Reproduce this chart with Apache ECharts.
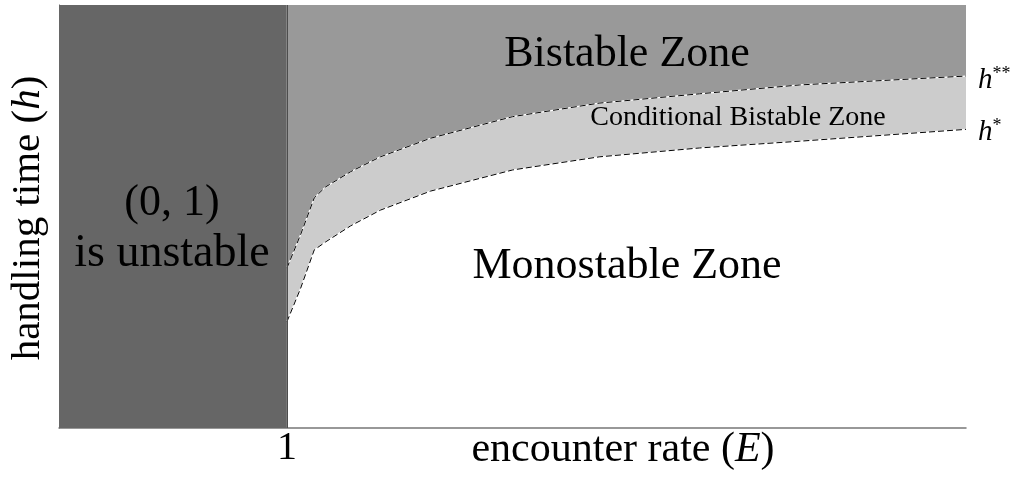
<!DOCTYPE html>
<html>
<head>
<meta charset="utf-8">
<script src="https://cdn.jsdelivr.net/npm/echarts@6/dist/echarts.min.js"></script>
<style>
  html, body { margin: 0; padding: 0; background: #ffffff; }
  #chart { width: 1016px; height: 479px; }
</style>
</head>
<body>
<div id="chart"></div>
<script>
// ---- data ----
var encounterRate = [1.00, 1.06, 1.12, 1.17, 1.28, 1.41, 1.63, 1.99, 2.37, 2.81, 3.25, 3.98];
var hDoubleStar   = [0.378, 0.457, 0.544, 0.570, 0.606, 0.641, 0.685, 0.736, 0.768, 0.790, 0.811, 0.832];
var hStar         = [0.251, 0.330, 0.421, 0.440, 0.478, 0.515, 0.560, 0.610, 0.641, 0.662, 0.678, 0.706];
var unstableRange = [0, 1];        // E range where (0,1) is unstable
var xRange = [0, 3.98];
var yRange = [0, 1];
var xTickLabels = ['1'];

var SERIF = '"Liberation Serif", "DejaVu Serif", serif';

function pairs(xs, ys) { return xs.map(function (x, i) { return [x, ys[i]]; }); }

var chart = echarts.init(document.getElementById('chart'), null, { renderer: 'canvas' });

var option = {
  animation: false,
  backgroundColor: '#ffffff',
  grid: { left: 59, right: 50, top: 5, bottom: 51, containLabel: false },
  xAxis: {
    type: 'value',
    min: xRange[0], max: xRange[1], interval: 1,
    splitLine: { show: false },
    axisTick: { show: false },
    axisLine: { show: true, lineStyle: { color: '#777777', width: 1.5 } },
    axisLabel: {
      show: true, margin: 0, color: '#000000', fontFamily: SERIF, fontSize: 40,
      showMinLabel: false, showMaxLabel: false,
      formatter: function (v) { return xTickLabels.indexOf(String(v)) >= 0 ? String(v) : ''; }
    }
  },
  yAxis: {
    type: 'value',
    min: yRange[0], max: yRange[1],
    splitLine: { show: false },
    axisTick: { show: false },
    axisLabel: { show: false },
    axisLine: { show: true, lineStyle: { color: '#555555', width: 1 } }
  },
  series: [
    {
      name: 'h* fill', type: 'line', data: pairs(encounterRate, hStar),
      symbol: 'none', smooth: false, z: 2,
      lineStyle: { color: '#ffffff', width: 1.2 },
      areaStyle: { color: '#cccccc', opacity: 1, origin: 'end' },
      markArea: {
        silent: true,
        itemStyle: { color: '#666666', opacity: 1 },
        data: [[{ xAxis: unstableRange[0], yAxis: yRange[0] }, { xAxis: unstableRange[1], yAxis: yRange[1] }]]
      },
      markLine: {
        silent: true, symbol: 'none', label: { show: false },
        lineStyle: { color: '#4d4d4d', width: 1, type: 'solid' },
        data: [{ xAxis: unstableRange[1] }]
      }
    },
    {
      name: 'h** fill', type: 'line', data: pairs(encounterRate, hDoubleStar),
      symbol: 'none', smooth: false, z: 3,
      lineStyle: { color: '#ffffff', width: 1.2 },
      areaStyle: { color: '#999999', opacity: 1, origin: 'end' }
    },
    {
      name: 'h*', type: 'line', data: pairs(encounterRate, hStar),
      symbol: 'none', smooth: false, z: 4,
      lineStyle: { color: '#000000', width: 1, type: [6, 3] }
    },
    {
      name: 'h**', type: 'line', data: pairs(encounterRate, hDoubleStar),
      symbol: 'none', smooth: false, z: 4,
      lineStyle: { color: '#000000', width: 1, type: [6, 3] }
    }
  ],
  graphic: [
    { type: 'text', x: 627, y: 54, z: 10, style: { text: 'Bistable Zone', font: '44px ' + SERIF, fill: '#000', align: 'center', verticalAlign: 'middle' } },
    { type: 'text', x: 627, y: 266, z: 10, style: { text: 'Monostable Zone', font: '44px ' + SERIF, fill: '#000', align: 'center', verticalAlign: 'middle' } },
    { type: 'text', x: 738, y: 118, z: 10, style: { text: 'Conditional Bistable Zone', font: '28px ' + SERIF, fill: '#000', align: 'center', verticalAlign: 'middle' } },
    { type: 'text', x: 172, y: 203, z: 10, style: { text: '(0, 1)', font: '44px ' + SERIF, fill: '#000', align: 'center', verticalAlign: 'middle' } },
    { type: 'text', x: 172, y: 254, z: 10, style: { text: 'is unstable', font: '46px ' + SERIF, fill: '#000', align: 'center', verticalAlign: 'middle' } },
    { type: 'text', x: 978, y: 80, z: 10, style: {
        text: '{i|h}{s|**}', align: 'left', verticalAlign: 'middle',
        rich: { i: { font: 'italic 29px ' + SERIF, fill: '#000', verticalAlign: 'bottom' },
                s: { font: '18px ' + SERIF, fill: '#000', verticalAlign: 'top' } } } },
    { type: 'text', x: 978, y: 132, z: 10, style: {
        text: '{i|h}{s|*}', align: 'left', verticalAlign: 'middle',
        rich: { i: { font: 'italic 29px ' + SERIF, fill: '#000', verticalAlign: 'bottom' },
                s: { font: '18px ' + SERIF, fill: '#000', verticalAlign: 'top' } } } },
    { type: 'text', x: 623, y: 450, z: 10, style: {
        text: '{n|encounter rate (}{i|E}{n|)}', align: 'center', verticalAlign: 'middle',
        rich: { n: { font: '42px ' + SERIF, fill: '#000' }, i: { font: 'italic 42px ' + SERIF, fill: '#000' } } } },
    { type: 'text', x: 28, y: 218, rotation: Math.PI / 2, z: 10, style: {
        text: '{n|handling time (}{i|h}{n|)}', align: 'center', verticalAlign: 'middle',
        rich: { n: { font: '41px ' + SERIF, fill: '#000' }, i: { font: 'italic 41px ' + SERIF, fill: '#000' } } } }
  ]
};

chart.setOption(option);
</script>
</body>
</html>
